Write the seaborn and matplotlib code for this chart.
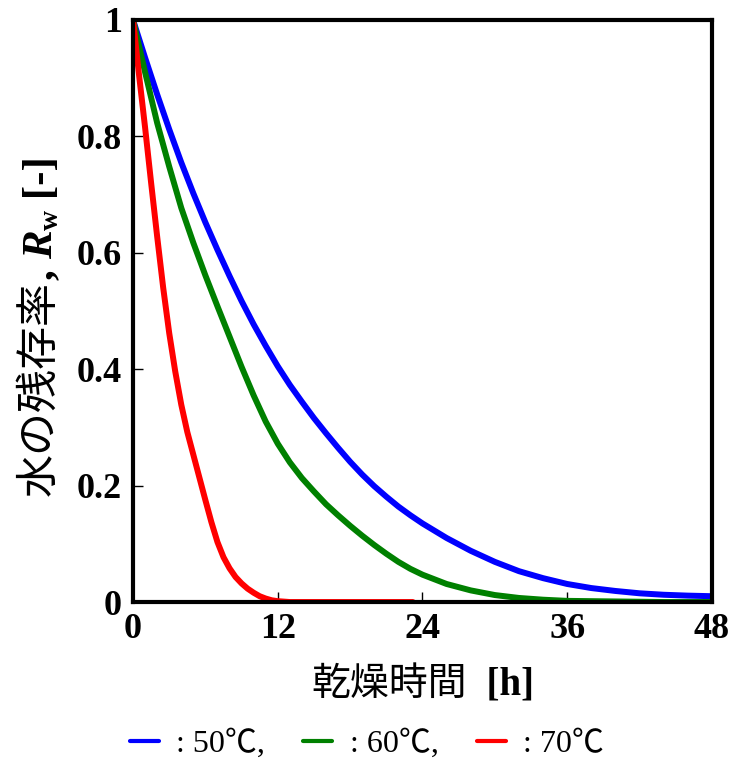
import numpy as np
import pandas as pd
import seaborn as sns
import matplotlib.pyplot as plt
from matplotlib.lines import Line2D

# drying time [h] and residual water ratio R_w [-]
t_50 = [0, 1, 2, 3, 4, 5, 6, 7, 8, 9, 10, 11, 12, 13, 14, 15, 16, 17, 18, 19, 20, 21, 22, 23, 24,
        26, 28, 30, 32, 34, 36, 38, 40, 42, 44, 46, 48]
r_50 = [1.0, 0.935, 0.872, 0.812, 0.755, 0.702, 0.652, 0.605, 0.56, 0.517, 0.477, 0.44, 0.405,
        0.373, 0.344, 0.316, 0.29, 0.265, 0.241, 0.219, 0.199, 0.181, 0.164, 0.149, 0.135,
        0.11, 0.088, 0.069, 0.053, 0.041, 0.031, 0.024, 0.019, 0.015, 0.0125, 0.011, 0.01]

t_60 = [0, 1, 2, 3, 4, 5, 6, 7, 8, 9, 10, 11, 12, 13, 14, 15, 16, 17, 18, 19, 20, 21, 22, 23, 24,
        26, 28, 30, 32, 34, 36, 40, 44, 48]
r_60 = [1.0, 0.91, 0.823, 0.748, 0.677, 0.617, 0.561, 0.508, 0.456, 0.404, 0.355, 0.31, 0.272,
        0.24, 0.213, 0.19, 0.168, 0.149, 0.131, 0.114, 0.098, 0.083, 0.069, 0.057, 0.047,
        0.031, 0.02, 0.012, 0.007, 0.004, 0.002, 0.001, 0.0, 0.0]

t_70 = [0, 0.5, 1, 1.5, 2, 2.5, 3, 3.5, 4, 4.5, 5, 5.5, 6, 6.5, 7, 7.5, 8, 8.5, 9, 9.5, 10,
        10.5, 11, 11.5, 12, 13, 16, 20, 23.2]
r_70 = [1.0, 0.905, 0.815, 0.72, 0.628, 0.54, 0.462, 0.396, 0.339, 0.292, 0.253, 0.214,
        0.175, 0.137, 0.103, 0.077, 0.058, 0.043, 0.032, 0.023, 0.016, 0.01, 0.006, 0.003,
        0.0015, 0.0, 0.0, 0.0, 0.0]

series = [": 50℃,", ": 60℃,", ": 70℃"]
colors = ["#0000ff", "#008000", "#ff0000"]
x_ticks = [0, 12, 24, 36, 48]
y_ticks = [0, 0.2, 0.4, 0.6, 0.8, 1]
y_ticklabels = ["0", "0.2", "0.4", "0.6", "0.8", "1"]

frames = []
for name, t, r in zip(series, [t_50, t_60, t_70], [r_50, r_60, r_70]):
    frames.append(pd.DataFrame({"time": t, "ratio": r, "temp": name}))
df = pd.concat(frames, ignore_index=True)

sns.set_style("ticks")
plt.rcParams["font.family"] = ["Liberation Serif", "Noto Sans CJK JP", "DejaVu Sans"]
for key in ["text.color", "axes.labelcolor", "xtick.color", "ytick.color", "axes.edgecolor"]:
    plt.rcParams[key] = "black"

fig = plt.figure(figsize=(7.37, 7.64), dpi=100)
ax = fig.add_axes([0.1805, 0.212, 0.7855, 0.762])

sns.lineplot(data=df, x="time", y="ratio", hue="temp", palette=colors,
             linewidth=4.3, legend=False, ax=ax, zorder=2)

ax.set_xlim(0, 48)
ax.set_ylim(0, 1)
ax.set_xticks(x_ticks)
ax.set_xticklabels([str(v) for v in x_ticks])
ax.set_yticks(y_ticks)
ax.set_yticklabels(y_ticklabels)
ax.set_xlabel("")
ax.set_ylabel("")
for lab in ax.get_xticklabels() + ax.get_yticklabels():
    lab.set_fontweight("bold")
    lab.set_fontsize(26)
ax.tick_params(direction="in", length=7, width=1, pad=8)
for sp in ax.spines.values():
    sp.set_visible(True)
    sp.set_linewidth(3)
    sp.set_zorder(3)

renderer = fig.canvas.get_renderer()


def chain(parts, vertical=False):
    # draw text pieces one after another; returns artists and total length in px
    arts = []
    pos = 0.0
    for s, props, shift in parts:
        if vertical:
            t = fig.text(shift, pos, s, rotation=90, rotation_mode="anchor",
                         ha="left", va="baseline", transform=None, **props)
            pos += t.get_window_extent(renderer).height
        else:
            t = fig.text(pos, shift, s, ha="left", va="baseline", transform=None, **props)
            pos += t.get_window_extent(renderer).width
        arts.append(t)
    return arts, pos


def cjk(size):
    return {"family": "Noto Sans CJK JP", "weight": "normal", "size": size}


def serif_b(size, **kw):
    d = {"family": ["Liberation Serif", "Noto Sans CJK JP"], "weight": "bold", "size": size}
    d.update(kw)
    return d


# x label
arts, w = chain([("乾燥時間", cjk(28), 0), ("  [h]", serif_b(28), 0)])
cx = (307 + 538) / 2
for t in arts:
    px, py = t.get_position()
    t.set_position((px + cx - w / 2, 764 - 695))

# y label
arts, h = chain([("水の残存率", cjk(31), 0), (", ", serif_b(31), 0),
                 ("R", serif_b(31, style="italic"), 0),
                 ("w", serif_b(20), 6), (" [-]", serif_b(31), 0)], vertical=True)
cy = 764 - 326
bx = 52
for t in arts:
    px, py = t.get_position()
    t.set_position((px + bx, py + cy - h / 2))

handles = [Line2D([0], [0], color=c, linewidth=3) for c in colors]
fig.legend(handles, series, loc="center", bbox_to_anchor=(0.498, 0.026), ncol=3,
           frameon=False, handlelength=0.9, handletextpad=0.55, columnspacing=1.2,
           borderpad=0, prop={"family": ["Liberation Serif", "Noto Sans CJK JP"], "size": 23})

fig.savefig("out.png", dpi=100)
